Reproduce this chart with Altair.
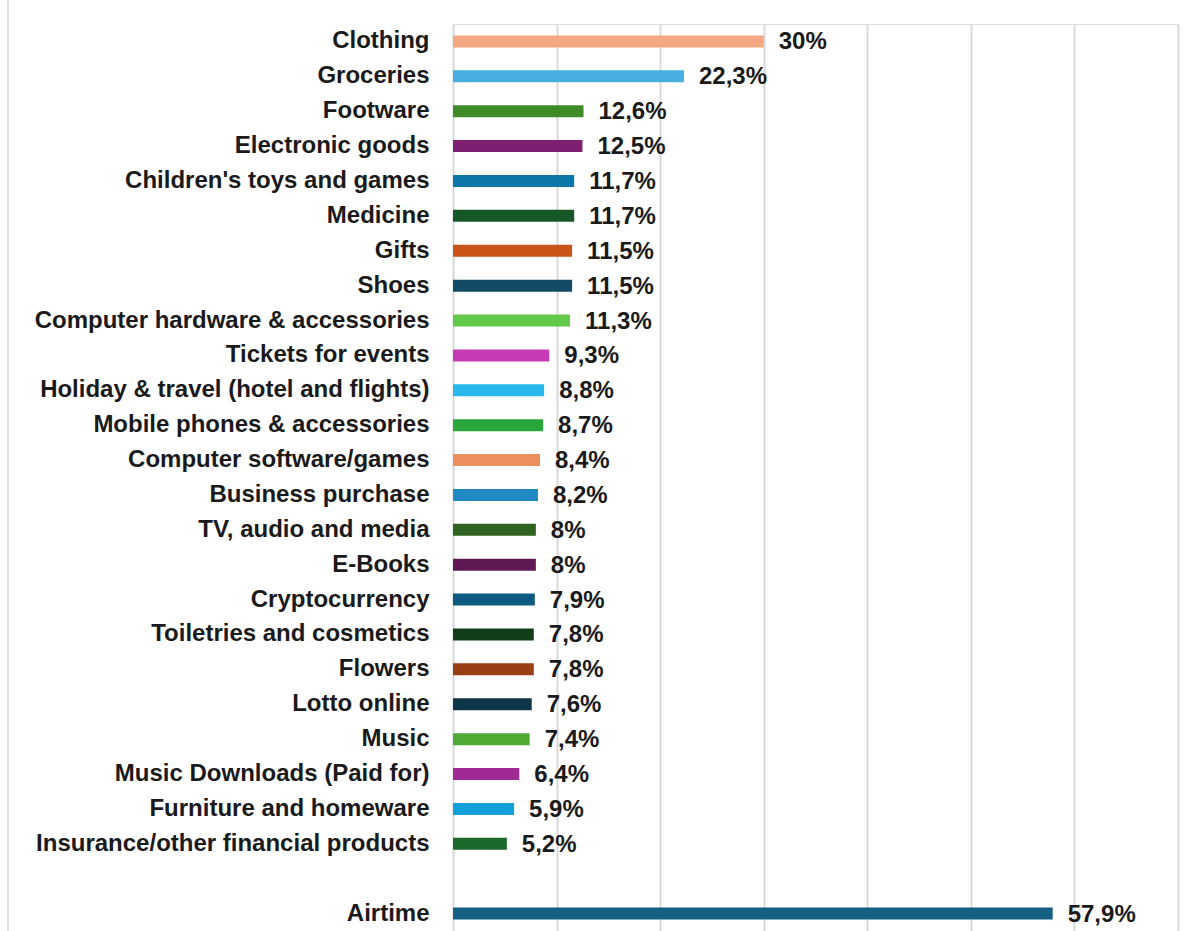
import altair as alt
import pandas as pd

categories = [
    "Clothing", "Groceries", "Footware", "Electronic goods",
    "Children's toys and games", "Medicine", "Gifts", "Shoes",
    "Computer hardware & accessories", "Tickets for events",
    "Holiday & travel (hotel and flights)", "Mobile phones & accessories",
    "Computer software/games", "Business purchase", "TV, audio and media",
    "E-Books", "Cryptocurrency", "Toiletries and cosmetics", "Flowers",
    "Lotto online", "Music", "Music Downloads (Paid for)",
    "Furniture and homeware", "Insurance/other financial products",
    "Airtime",
]
values = [30, 22.3, 12.6, 12.5, 11.7, 11.7, 11.5, 11.5, 11.3, 9.3, 8.8, 8.7,
          8.4, 8.2, 8, 8, 7.9, 7.8, 7.8, 7.6, 7.4, 6.4, 5.9, 5.2, 57.9]
colors = [
    "#F4A882", "#47AFE0", "#3E8A27", "#7E1F72", "#0B76A8", "#155726",
    "#CB5418", "#154A66", "#62C94A", "#C63BB6", "#29B8EE", "#2BA63C",
    "#EE8F5E", "#2088C2", "#2E6320", "#5F1A55", "#0D5A80", "#113D19",
    "#9A3E13", "#0E3547", "#4EAA33", "#A02A93", "#12A0DA", "#1C6A2B",
    "#155F82",
]
gap_label = " "
y_domain = categories[:-1] + [gap_label] + categories[-1:]

df = pd.DataFrame({
    "cat": categories,
    "val": values,
    "label": [f"{v:g}".replace(".", ",") + "%" for v in values],
})

FONT = "Liberation Sans"
FS = 24

y_enc = alt.Y("cat:N", sort=y_domain,
              scale=alt.Scale(domain=y_domain, paddingInner=0, paddingOuter=0),
              axis=alt.Axis(title=None, ticks=False, domain=False, grid=False,
                            labelFont=FONT, labelFontSize=FS, labelFontWeight="bold",
                            labelColor="#1a1a1a", labelPadding=24,
                            labelLimit=0))
x_enc = alt.X("val:Q", scale=alt.Scale(domain=[0, 70], nice=False, zero=True),
              axis=alt.Axis(title=None, labels=False, ticks=False, domain=False,
                            grid=True, gridColor="#d9d9d9", gridWidth=2,
                            values=[0, 10, 20, 30, 40, 50, 60, 70]))

base = alt.Chart(df)
bars = base.mark_bar(size=12).encode(
    x=x_enc,
    y=y_enc,
    color=alt.Color("cat:N", scale=alt.Scale(domain=categories, range=colors),
                    legend=None),
)
labels = base.mark_text(align="left", baseline="middle", dx=15, dy=1,
                        font=FONT, fontSize=FS, fontWeight="bold",
                        color="#1a1a1a").encode(
    x="val:Q", y=alt.Y("cat:N", sort=y_domain), text="label:N")

border = alt.Chart(pd.DataFrame({"a": [0]})).mark_rule(color="#e3e3e3", strokeWidth=2).encode(
    x=alt.value(-445), y=alt.value(-24), y2=alt.value(907))

chart = alt.layer(border, bars, labels).properties(
    width=725, height=907,
    autosize=alt.AutoSizeParams(type="none"),
    padding={"left": 453, "top": 24, "right": 26, "bottom": 0},
).configure_view(stroke=None).configure(background="white")

chart.save("out.html", embed_options={"renderer": "svg", "actions": False})
